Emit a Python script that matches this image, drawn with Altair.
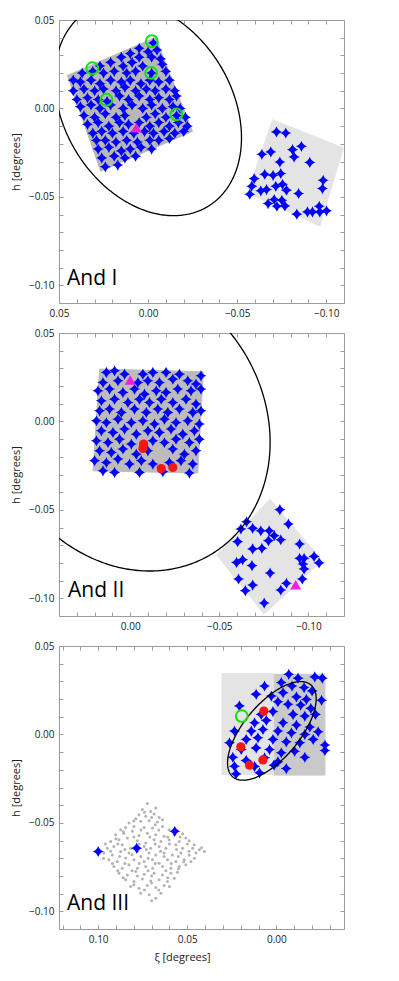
import altair as alt
import numpy as np
import pandas as pd

# ---------------- data: standard coordinates in milli-degrees ----------------
# And I
a1_dense_xi = [45.3, -4.3, -24.9, 26.6]
a1_dense_eta = [18.6, 40.2, -13.0, -35.5]
a1_light_xi = [-69.9, -109.6, -96.4, -55.8]
a1_light_eta = [-6.4, -22.4, -66.5, -47.7]
a1_stars = [
    (-3, 37), (5, 34), (0, 32), (-5, 33),
    (15, 29), (10, 31), (5, 29), (-2, 29), (-7, 28),
    (27, 24), (21, 26), (14, 24), (9, 26), (3, 24), (-2, 20), (-8, 25),
    (37, 20), (31, 21), (25, 20), (19, 21), (12, 20), (7, 21), (-10, 21),
    (42, 16), (38, 15), (32, 16), (27, 14), (21, 16), (15, 15), (10, 16), (4, 14), (-1, 16), (-6, 15), (-12, 16),
    (42, 10), (36, 11), (30, 10), (25, 11), (18, 10), (13, 12), (7, 10), (1, 11), (-4, 10), (-10, 11), (-15, 10),
    (40, 5), (34, 6), (28, 5), (23, 4), (16, 7), (11, 5), (5, 7), (-1, 5), (-6, 6), (-12, 5), (-16, 7),
    (38, 1), (32, 2), (27, 0), (21, 2), (14, 0), (9, 2), (3, 0), (-2, 2), (-8, 0), (-14, 1), (-18, 0),
    (36, -4), (30, -5), (24, -3), (18, -5), (13, -4), (1, -5), (-4, -3), (-10, -5), (-16, -4), (-21, -5),
    (34, -9), (28, -8), (22, -10), (16, -8), (11, -9), (5, -8), (-1, -10), (-6, -8), (-12, -10), (-17, -8), (-22, -10),
    (31, -14), (26, -13), (20, -14), (14, -13), (8, -14), (2, -13), (-3, -14), (-9, -13), (-15, -14), (-20, -13),
    (29, -18), (24, -18), (18, -19), (12, -18), (6, -19), (-1, -18), (-6, -18), (-12, -17),
    (28, -23), (22, -22), (15, -24), (10, -23), (4, -22), (-2, -23),
    (26, -28), (19, -27), (13, -28), (7, -27),
    (24, -33), (17, -32),
    # outer field
    (-72.1, -13.3), (-77.3, -13.9), (-63.9, -25.9), (-68.9, -24.6), (-81.1, -23.3), (-86.1, -21.4),
    (-82.0, -27.4), (-74.0, -30.3), (-90.8, -30.5), (-59.6, -39.7), (-65.5, -37.2), (-70.2, -37.8),
    (-74.5, -36.8), (-58.2, -44.0), (-57.1, -48.5), (-63.3, -46.6), (-66.5, -45.9), (-71.7, -44.0),
    (-75.5, -42.9), (-77.7, -46.2), (-70.8, -51.5), (-75.1, -51.9), (-84.5, -48.1), (-98.3, -40.6),
    (-97.9, -45.3), (-67.4, -53.8), (-72.3, -55.3), (-76.8, -55.1), (-83.5, -59.8), (-89.5, -58.5),
    (-92.3, -58.5), (-96.1, -55.3), (-96.4, -58.5), (-100.2, -57.9),
]
a1_green = [(-2.1, 38.0), (31.3, 22.7), (-1.7, 20.1), (23.4, 4.9), (-15.9, -3.4)]
a1_tri = [(6.6, -10.9)]
a1_red = []
a1_ellipse = (0.0, 0.0, 64.8, 47.2, 31.0)      # centre xi, centre eta, a, b, PA
a1_label = (45.5, -99.8)

# And II
a2_dense_xi = [17.2, -41.0, -37.9, 20.9]
a2_dense_eta = [29.6, 28.1, -29.2, -27.9]
a2_light_xi = [-78.4, -107.8, -75.2, -48.5]
a2_light_eta = [-43.9, -78.7, -108.9, -75.5]
a2_stars = [
    (13.4, 27.7), (8.8, 28.6), (3.2, 26.7), (-7.1, 26.7), (-12.7, 27.7), (-20.1, 27.7), (-27.6, 26.7), (-39.7, 25.8),
    (15.3, 22.0), (6.9, 23.0), (-4.3, 22.0), (-9.9, 23.0), (-16.4, 22.0), (-23.9, 23.9), (-32.3, 23.0), (-36.9, 21.1),
    (18.1, 17.3), (11.6, 18.3), (4.1, 16.4), (-2.4, 18.3), (-8.0, 15.4), (-14.6, 17.3), (-20.1, 16.4), (-26.7, 18.3), (-34.1, 17.3), (-39.7, 18.3),
    (16.2, 11.7), (8.8, 12.6), (1.3, 10.7), (-5.2, 12.6), (-10.8, 10.7), (-17.4, 12.6), (-23.9, 10.7), (-31.3, 12.6), (-36.9, 9.8),
    (17.2, 6.0), (11.6, 7.0), (5.0, 5.1), (-2.4, 7.0), (-9.0, 5.1), (-15.5, 7.0), (-21.1, 5.1), (-27.6, 7.0), (-35.1, 5.1), (-39.7, 6.0),
    (19.0, 0.4), (13.4, -0.6), (6.9, 1.3), (-0.6, -0.6), (-7.1, 0.4), (-13.6, -1.5), (-19.2, 1.3), (-25.7, -0.6), (-32.3, 0.4), (-38.8, -1.5),
    (16.2, -5.3), (9.7, -6.2), (3.2, -4.3), (-3.4, -7.2), (-9.9, -5.3), (-16.4, -6.2), (-22.9, -4.3), (-29.5, -7.2), (-36.0, -5.3),
    (19.0, -10.9), (12.5, -11.9), (6.0, -10.0), (-0.6, -12.8), (-12.7, -10.9), (-19.2, -11.9), (-25.7, -10.0), (-33.2, -11.9), (-38.8, -10.0),
    (17.2, -16.6), (10.6, -17.5), (4.1, -15.6), (-3.4, -18.5), (-9.9, -16.6), (-23.9, -15.6), (-30.4, -18.5), (-36.9, -16.6),
    (20.0, -22.2), (13.4, -23.2), (6.9, -21.3), (0.4, -24.1), (-6.2, -22.2), (-12.7, -24.1), (-22.0, -23.2), (-28.5, -22.2), (-35.1, -24.1),
    (15.3, -27.9), (8.8, -28.8), (-5.2, -28.8), (-18.3, -28.4), (-33.2, -29.2),
    # outer field
    (-84.0, -49.9), (-88.8, -58.0), (-65.3, -56.7), (-62.1, -60.8), (-68.7, -60.4), (-73.3, -61.8),
    (-78.0, -61.8), (-80.8, -64.6), (-84.5, -66.9), (-77.6, -67.4), (-60.3, -68.0), (-68.7, -72.1),
    (-73.9, -71.7), (-95.1, -69.3), (-103.2, -76.3), (-106.0, -80.0), (-95.1, -77.4), (-97.6, -77.4),
    (-97.0, -80.6), (-97.6, -83.4), (-63.1, -78.2), (-59.7, -79.7), (-68.3, -81.5), (-78.5, -85.7),
    (-96.6, -89.1), (-60.8, -89.1), (-68.7, -92.5), (-64.6, -95.7), (-87.7, -91.5), (-84.5, -95.3),
    (-75.2, -102.7),
]
a2_green = []
a2_tri = [(0.0, 23.4), (-92.9, -92.3)]
a2_red = [(-7.5, -12.8), (-7.1, -15.3), (-17.4, -26.6), (-23.9, -26.0)]
a2_ellipse = (0.0, 0.0, 87.8, 74.9, 31.0)
a2_label = (34.9, -99.4)

# And III
a3_light_xi = [30.5, 1.5, 1.5, 30.5]
a3_light_eta = [34.4, 34.4, -22.7, -22.7]
a3_dense_xi = [1.5, -27.3, -27.3, 1.5]
a3_dense_eta = [34.0, 34.0, -23.0, -23.0]
a3_stars = [
    (-7.0, 34.0), (-12.2, 31.8), (-21.6, 32.5), (-25.8, 31.8), (-2.8, 29.3), (6.6, 27.4), (-8.8, 27.4),
    (-15.6, 26.5), (-20.1, 24.6), (-3.8, 23.6), (11.3, 22.7), (2.8, 21.7), (-11.3, 21.2), (-16.9, 19.8),
    (-25.4, 19.3), (20.7, 16.1), (-0.9, 18.5), (-6.6, 17.0), (-13.7, 16.6), (-19.4, 14.7), (8.5, 11.3),
    (1.9, 12.9), (-9.4, 11.3), (-16.0, 10.4), (-22.0, 11.3), (12.2, 6.6), (5.6, 7.9), (-3.8, 6.6),
    (-11.3, 5.3), (-18.8, 4.2), (23.5, 1.9), (14.1, 1.9), (7.5, 2.8), (-0.9, 1.9), (-8.5, 0.9),
    (-16.0, 0.0), (-23.5, 1.5), (16.9, -2.8), (10.3, -1.9), (1.9, -2.8), (-5.6, -4.2), (-13.2, -4.7),
    (-20.7, -2.8), (-27.3, -6.0), (26.3, -4.7), (19.7, -8.5), (11.3, -7.6), (3.8, -8.5), (-2.8, -10.4),
    (-10.3, -9.5), (-27.3, -9.1), (24.4, -12.9), (16.9, -14.7), (6.6, -13.2), (-0.9, -15.5),
    (-16.0, -12.9), (23.5, -18.0), (12.2, -18.1), (1.3, -17.4), (-5.6, -19.3), (22.6, -22.3), (9.4, -21.7),
    # outer field
    (100.0, -66.2), (78.4, -64.3), (57.0, -54.8),
]
a3_green = [(19.4, 10.4)]
a3_tri = []
a3_red = [(7.0, 13.2), (19.9, -7.0), (15.0, -17.4), (7.5, -14.4)]
a3_dots = [
    (72.4, -39.1), (75.2, -42.5), (70.5, -43.5), (67.7, -41.6), (77.1, -45.4), (73.3, -46.3), (68.6, -45.0),
    (65.8, -46.9), (78.9, -47.6), (82.7, -50.1), (76.1, -49.1), (71.4, -48.8), (66.7, -49.5), (63.9, -48.2),
    (84.6, -52.6), (79.9, -52.0), (87.4, -53.9), (74.2, -52.6), (69.5, -52.9), (63.9, -52.0), (60.2, -53.9),
    (90.2, -56.7), (85.5, -55.8), (80.8, -54.8), (77.1, -57.1), (72.4, -55.8), (67.7, -56.7), (63.0, -57.6),
    (57.3, -56.7), (52.6, -56.1), (50.8, -58.6), (93.0, -60.5), (88.3, -59.5), (83.6, -58.6), (78.0, -60.1),
    (73.3, -61.4), (68.6, -59.5), (64.8, -60.5), (60.2, -59.5), (54.5, -60.5), (48.9, -60.1), (46.1, -62.4),
    (94.9, -64.3), (91.2, -63.3), (86.5, -62.4), (81.8, -64.3), (74.2, -63.3), (70.5, -64.3), (65.8, -63.3),
    (62.0, -64.3), (56.4, -62.4), (52.6, -64.3), (47.0, -64.3), (43.2, -65.2), (40.4, -66.2), (96.8, -67.1),
    (92.1, -68.1), (87.4, -66.2), (82.7, -67.1), (76.1, -69.0), (71.4, -67.1), (67.7, -68.1), (63.0, -67.1),
    (58.3, -68.1), (53.6, -67.1), (48.9, -68.1), (45.1, -67.1), (94.0, -70.9), (89.3, -71.8), (84.6, -69.9),
    (79.9, -70.9), (74.2, -71.8), (69.5, -70.9), (65.8, -72.8), (61.1, -70.9), (56.4, -71.8), (51.7, -70.9),
    (47.9, -71.8), (91.2, -74.7), (86.5, -75.6), (82.7, -73.7), (78.0, -75.6), (73.3, -74.7), (69.5, -75.6),
    (63.9, -74.7), (59.2, -75.6), (54.5, -74.7), (50.8, -73.7), (88.3, -78.5), (83.6, -79.4), (78.9, -77.5),
    (74.2, -79.0), (68.6, -78.5), (63.9, -79.4), (59.2, -78.5), (55.5, -77.9), (84.6, -82.2), (79.9, -83.2),
    (75.2, -81.7), (70.5, -82.8), (65.8, -82.2), (61.1, -83.2), (57.3, -81.3), (81.8, -86.0), (77.1, -86.9),
    (72.4, -85.4), (67.7, -86.6), (63.0, -85.4), (76.1, -89.8), (71.4, -90.7), (67.7, -92.6), (64.8, -89.8),
    (74, -44), (70, -47), (80, -49), (68, -51), (86, -55), (76, -54), (66, -54), (58, -55), (90, -59),
    (80, -58), (71, -58), (61, -58), (54, -58), (96, -62), (89, -62), (77, -62), (68, -62), (60, -62),
    (50, -62), (93, -66), (85, -65), (78, -66), (73, -65), (65, -66), (56, -65), (49, -66), (42, -64),
    (97, -70), (88, -69), (81, -68), (72, -70), (63, -69), (55, -69), (46, -70), (92, -73), (85, -73),
    (77, -73), (68, -73), (59, -73), (52, -72), (89, -77), (81, -77), (72, -77), (62, -77), (55, -76),
    (86, -81), (78, -80), (70, -80), (61, -81), (80, -85), (70, -84), (60, -86), (74, -88), (66, -88),
    (70, -94),
]
a3_ellipse = (2.5, 2.0, 34.0, 15.5, 140.0)
a3_label = (117.5, -99.2)

# axes (degrees)
Y_DOMAIN = [-0.11, 0.05]
Y_LABELS = [0.05, 0.0, -0.05, -0.10]
Y_TICKS = [0.05, 0.04, 0.03, 0.02, 0.01, 0.0, -0.01, -0.02, -0.03, -0.04,
           -0.05, -0.06, -0.07, -0.08, -0.09, -0.10, -0.11]
X1_DOMAIN = [-0.11, 0.05]
X1_LABELS = [0.05, 0.0, -0.05, -0.10]
X1_TICKS = Y_TICKS
X2_DOMAIN = [-0.12, 0.04]
X2_LABELS = [0.0, -0.05, -0.10]
X2_TICKS = [0.04, 0.03, 0.02, 0.01, 0.0, -0.01, -0.02, -0.03, -0.04, -0.05,
            -0.06, -0.07, -0.08, -0.09, -0.10, -0.11, -0.12]
X3_DOMAIN = [-0.038, 0.122]
X3_LABELS = [0.10, 0.05, 0.0]
X3_TICKS = [0.12, 0.11, 0.10, 0.09, 0.08, 0.07, 0.06, 0.05, 0.04, 0.03,
            0.02, 0.01, 0.0, -0.01, -0.02, -0.03]

# ---------------- styling ----------------
W, H = 285, 283
FONT = "Open Sans"
FRAME = "#9c9c9c"
LIGHT = "#e4e4e4"
BLUE = "#0000ff"
STAR = "M0,-1 Q0.25,-0.25 1,0 Q0.25,0.25 0,1 Q-0.25,0.25 -1,0 Q-0.25,-0.25 0,-1 Z"


def pts(pairs):
    return pd.DataFrame({"xi": [p[0] / 1000 for p in pairs],
                         "eta": [p[1] / 1000 for p in pairs]})


def poly(xs, ys):
    xs = list(xs) + [xs[0]]
    ys = list(ys) + [ys[0]]
    return pd.DataFrame({"xi": [v / 1000 for v in xs], "eta": [v / 1000 for v in ys],
                         "k": list(range(len(xs)))})


def ellipse(params):
    cx, cy, a, b, pa = params
    t = np.linspace(0, 2 * np.pi, 361)
    p = np.radians(pa)
    xi = cx + a * np.cos(t) * np.sin(p) + b * np.sin(t) * np.cos(p)
    eta = cy + a * np.cos(t) * np.cos(p) - b * np.sin(t) * np.sin(p)
    return pd.DataFrame({"xi": xi / 1000, "eta": eta / 1000, "k": np.arange(len(t))})


def tick_axis(orient, offset, values):
    return alt.Axis(orient=orient, offset=offset, values=values, labels=False,
                    ticks=True, tickSize=4, tickColor=FRAME, domain=False,
                    grid=False, title=None, zindex=1)


def panel(dense, light, stars, green, tri, red, ell, label, name,
          xdom, xlabels, xticks, dense_color, xtitle=None, dots=None):
    xs = alt.Scale(domain=xdom, reverse=True, nice=False, zero=False)
    ys = alt.Scale(domain=Y_DOMAIN, nice=False, zero=False)

    if xtitle:
        lab_x = alt.Axis(orient="bottom", values=xlabels, format=".2f", ticks=False,
                         tickSize=0, labelPadding=5, domain=False, grid=False,
                         labelFlush=False, labelOverlap=False, title=xtitle,
                         titlePadding=7, titleX=123)
    else:
        lab_x = alt.Axis(orient="bottom", values=xlabels, format=".2f", ticks=False,
                         tickSize=0, labelPadding=5, domain=False, grid=False,
                         labelFlush=False, labelOverlap=False, title=None)
    lab_y = alt.Axis(orient="left", values=Y_LABELS, format=".2f", ticks=False,
                     tickSize=0, labelPadding=5, domain=False, grid=False,
                     labelFlush=False, labelOverlap=False, title="h [degrees]",
                     titlePadding=7)

    def enc(ax, ay):
        return dict(x=alt.X("xi:Q", scale=xs, axis=ax),
                    y=alt.Y("eta:Q", scale=ys, axis=ay))

    layers = []
    layers.append(alt.Chart(poly(*dense)).mark_line(
        fill=dense_color, stroke=dense_color, strokeWidth=1).encode(
        **enc(lab_x, lab_y), order="k:Q"))
    layers.append(alt.Chart(poly(*light)).mark_line(
        fill=LIGHT, stroke=LIGHT, strokeWidth=1).encode(
        **enc(tick_axis("top", -H, xticks), tick_axis("right", -W, Y_TICKS)),
        order="k:Q"))
    if dots:
        layers.append(alt.Chart(pts(dots)).mark_circle(
            size=9, color="#b3b3b3", opacity=1).encode(**enc(None, None)))
    layers.append(alt.Chart(pts(stars)).mark_point(
        shape=STAR, filled=True, color=BLUE, size=125, opacity=1).encode(**enc(None, None)))
    layers.append(alt.Chart(ellipse(ell)).mark_line(
        clip=True, color="black", strokeWidth=1.3).encode(
        **enc(tick_axis("bottom", -H, xticks), tick_axis("left", -W, Y_TICKS)),
        order="k:Q"))
    if red:
        layers.append(alt.Chart(pts(red)).mark_circle(
            size=85, color="#ff1414", opacity=1).encode(**enc(None, None)))
    if green:
        layers.append(alt.Chart(pts(green)).mark_point(
            shape="circle", filled=False, color="#10e010", size=140,
            strokeWidth=2, opacity=1).encode(**enc(None, None)))
    if tri:
        layers.append(alt.Chart(pts(tri)).mark_point(
            shape="triangle-up", filled=True, color="#f020e0", size=120,
            opacity=1).encode(**enc(None, None)))
    lab_df = pts([label]).assign(name=name)
    layers.append(alt.Chart(lab_df).mark_text(
        font=FONT, fontSize=21, align="left", baseline="alphabetic",
        color="black").encode(**enc(None, None), text="name:N"))

    return alt.layer(*layers).resolve_axis(x="independent", y="independent").properties(
        width=W, height=H)


p1 = panel((a1_dense_xi, a1_dense_eta), (a1_light_xi, a1_light_eta), a1_stars,
           a1_green, a1_tri, a1_red, a1_ellipse, a1_label, "And I",
           X1_DOMAIN, X1_LABELS, X1_TICKS, "#b8b8b8")
p2 = panel((a2_dense_xi, a2_dense_eta), (a2_light_xi, a2_light_eta), a2_stars,
           a2_green, a2_tri, a2_red, a2_ellipse, a2_label, "And II",
           X2_DOMAIN, X2_LABELS, X2_TICKS, "#bcbcbc")
p3 = panel((a3_dense_xi, a3_dense_eta), (a3_light_xi, a3_light_eta), a3_stars,
           a3_green, a3_tri, a3_red, a3_ellipse, a3_label, "And III",
           X3_DOMAIN, X3_LABELS, X3_TICKS, "#c9c9c9", xtitle="ξ [degrees]", dots=a3_dots)

chart = alt.vconcat(p1, p2, p3, spacing=30, bounds="flush").properties(
    padding={"left": 2, "top": 6, "right": 5, "bottom": 5}
).configure_view(stroke=FRAME, strokeWidth=1).configure_axis(
    labelFont=FONT, labelFontSize=10, labelColor="#1a1a1a",
    titleFont=FONT, titleFontSize=11, titleFontWeight="normal", titleColor="#222222",
    tickColor=FRAME, tickWidth=1)

chart.save("out.html", embed_options={"renderer": "svg", "actions": False})
